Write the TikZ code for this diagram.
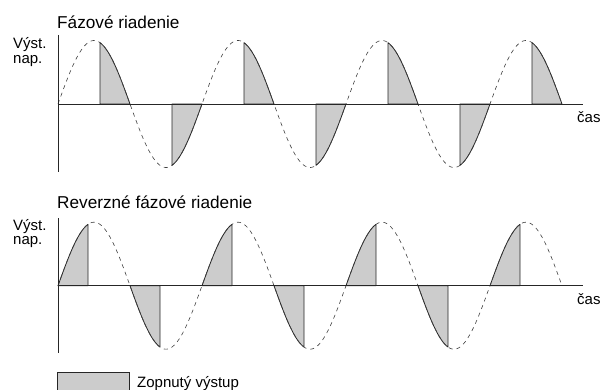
\documentclass[tikz,border=0pt]{standalone}
\usepackage{fontspec}
\setmainfont{Liberation Sans}
\begin{document}
\begin{tikzpicture}[x=1pt,y=1pt,
  axisline/.style={line width=0.9pt, draw=black!85},
  sinedash/.style={line width=0.6pt, draw=black!75, dash pattern=on 4pt off 4pt},
  cutwave/.style={line width=0.8pt, draw=black!85, fill=black!20, line join=round},
  titletext/.style={font=\fontsize{17.2}{20}\selectfont, anchor=base west, inner sep=0pt},
  labeltext/.style={font=\fontsize{15}{18}\selectfont, anchor=base west, inner sep=0pt},
]
\useasboundingbox (0,0) rectangle (603,389);
% ---------- top panel ----------
\node[titletext] (t1) at (57,360.7) {Fázové riadenie};
\node[labeltext] (v1) at (13,340) {Výst.};
\node[labeltext] (n1) at (13,325.5) {nap.};
\node[labeltext] (c1) at (577,266) {čas};
\coordinate (o1) at (58,285);
\coordinate (top1) at (58,354);
\coordinate (bot1) at (58,217);
\coordinate (end1) at (583,285);
\foreach \k in {0,...,6}{
  \pgfmathsetmacro{\fs}{100+72*\k}
  \pgfmathsetmacro{\fe}{130+72*\k}
  \filldraw[cutwave] (\fs,285) -- plot[domain=\fs:\fe, samples=50] (\x,{285+63.5*sin(2.5*(\x-58))}) -- cycle;
}
\draw[sinedash] plot[domain=58:562, samples=400] (\x,{285+63.5*sin(2.5*(\x-58))});
\draw[axisline] (top1) -- (bot1);
\draw[axisline] (o1) -- (end1);
% ---------- bottom panel ----------
\node[titletext] (t2) at (57,181) {Reverzné fázové riadenie};
\node[labeltext] (v2) at (13,159) {Výst.};
\node[labeltext] (n2) at (13,144.5) {nap.};
\node[labeltext] (c2) at (577,84.7) {čas};
\coordinate (o2) at (58,103.3);
\coordinate (top2) at (58,171);
\coordinate (bot2) at (58,36);
\coordinate (end2) at (583,103.3);
\foreach \k in {0,...,6}{
  \pgfmathsetmacro{\gs}{58+72*\k}
  \pgfmathsetmacro{\ge}{88+72*\k}
  \filldraw[cutwave] (\gs,103.3) -- plot[domain=\gs:\ge, samples=50] (\x,{103.3+63.5*sin(2.5*(\x-58))}) -- (\ge,103.3) -- cycle;
}
\draw[sinedash] plot[domain=58:562, samples=400] (\x,{103.3+63.5*sin(2.5*(\x-58))});
\draw[axisline] (top2) -- (bot2);
\draw[axisline] (o2) -- (end2);
% ---------- legend ----------
\node[draw=black!85, line width=0.8pt, fill=black!20, minimum width=72pt, minimum height=18pt, inner sep=0pt, anchor=north west] (leg) at (57,17) {};
\node[labeltext] (legt) at (137,2) {Zopnutý výstup};
\end{tikzpicture}
\end{document}
